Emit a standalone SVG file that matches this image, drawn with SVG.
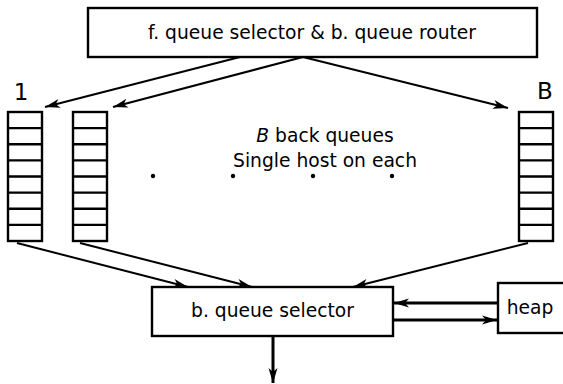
<svg xmlns="http://www.w3.org/2000/svg" width="563" height="384" viewBox="0 0 563 384">
<style>
  .box{fill:#fff;stroke:#000;stroke-width:2.4}
  .q{fill:none;stroke:#000;stroke-width:2.4}
  .t{font-family:"DejaVu Sans",sans-serif;font-size:18.7px;fill:#000}
  .lbl{font-family:"DejaVu Sans",sans-serif;font-size:23px;fill:#000}
  .c{fill:none;stroke:#000;stroke-width:2}
  .ct{fill:none;stroke:#000;stroke-width:3}
</style>
<defs>
  <marker id="ah" markerUnits="userSpaceOnUse" markerWidth="18" markerHeight="12" refX="15" refY="6" orient="auto" viewBox="0 0 18 12">
    <path d="M0,1.5 L15,6 L0,10.5 L4,6 z" fill="#000"/>
  </marker>
  <g id="queue">
    <rect x="0" y="0" width="34" height="129" class="q"/>
    <path d="M0,16.1H34M0,32.2H34M0,48.4H34M0,64.5H34M0,80.6H34M0,96.8H34M0,112.9H34" class="q"/>
  </g>
</defs>
<rect width="563" height="384" fill="#fff"/>
<g id="router">
  <rect x="88" y="8" width="449" height="49" class="box"/>
  <text x="312" y="39" class="t" text-anchor="middle">f. queue selector &amp; b. queue router</text>
</g>
<g id="label1"><text x="21" y="100" class="lbl" text-anchor="middle">1</text></g>
<g id="labelB"><text x="545" y="99" class="lbl" text-anchor="middle">B</text></g>
<g id="queue1"><use href="#queue" x="8" y="112"/></g>
<g id="queue2"><use href="#queue" x="73" y="112"/></g>
<g id="queueB"><use href="#queue" x="519" y="112"/></g>
<g id="caption">
  <text x="325" y="142" class="t" text-anchor="middle"><tspan font-style="italic">B</tspan> back queues</text>
  <text x="325" y="167" class="t" text-anchor="middle">Single host on each</text>
</g>
<g id="dots" fill="#000">
  <circle cx="153" cy="176" r="2.2"/>
  <circle cx="233" cy="176" r="2.2"/>
  <circle cx="313" cy="176" r="2.2"/>
  <circle cx="392" cy="176" r="2.2"/>
</g>
<g id="selector">
  <rect x="152" y="287" width="241" height="49" class="box"/>
  <text x="272.5" y="317" class="t" text-anchor="middle">b. queue selector</text>
</g>
<g id="heap">
  <rect x="498" y="283" width="80" height="50" class="box"/>
  <text x="530" y="314" class="t" text-anchor="middle">heap</text>
</g>
<g id="connectors">
  <path d="M240,57 L45,107" class="c" marker-end="url(#ah)"/>
  <path d="M303,57 L113,107" class="c" marker-end="url(#ah)"/>
  <path d="M303,57 L508,108" class="c" marker-end="url(#ah)"/>
  <path d="M17,243 L188,287" class="c" marker-end="url(#ah)"/>
  <path d="M80,243 L252,287" class="c" marker-end="url(#ah)"/>
  <path d="M528,243 L353,287" class="c" marker-end="url(#ah)"/>
  <path d="M498,303 L394,303" class="ct" marker-end="url(#ah)"/>
  <path d="M393,320 L497,320" class="ct" marker-end="url(#ah)"/>
  <path d="M273,336 L273,383" class="ct" marker-end="url(#ah)"/>
</g>
</svg>
